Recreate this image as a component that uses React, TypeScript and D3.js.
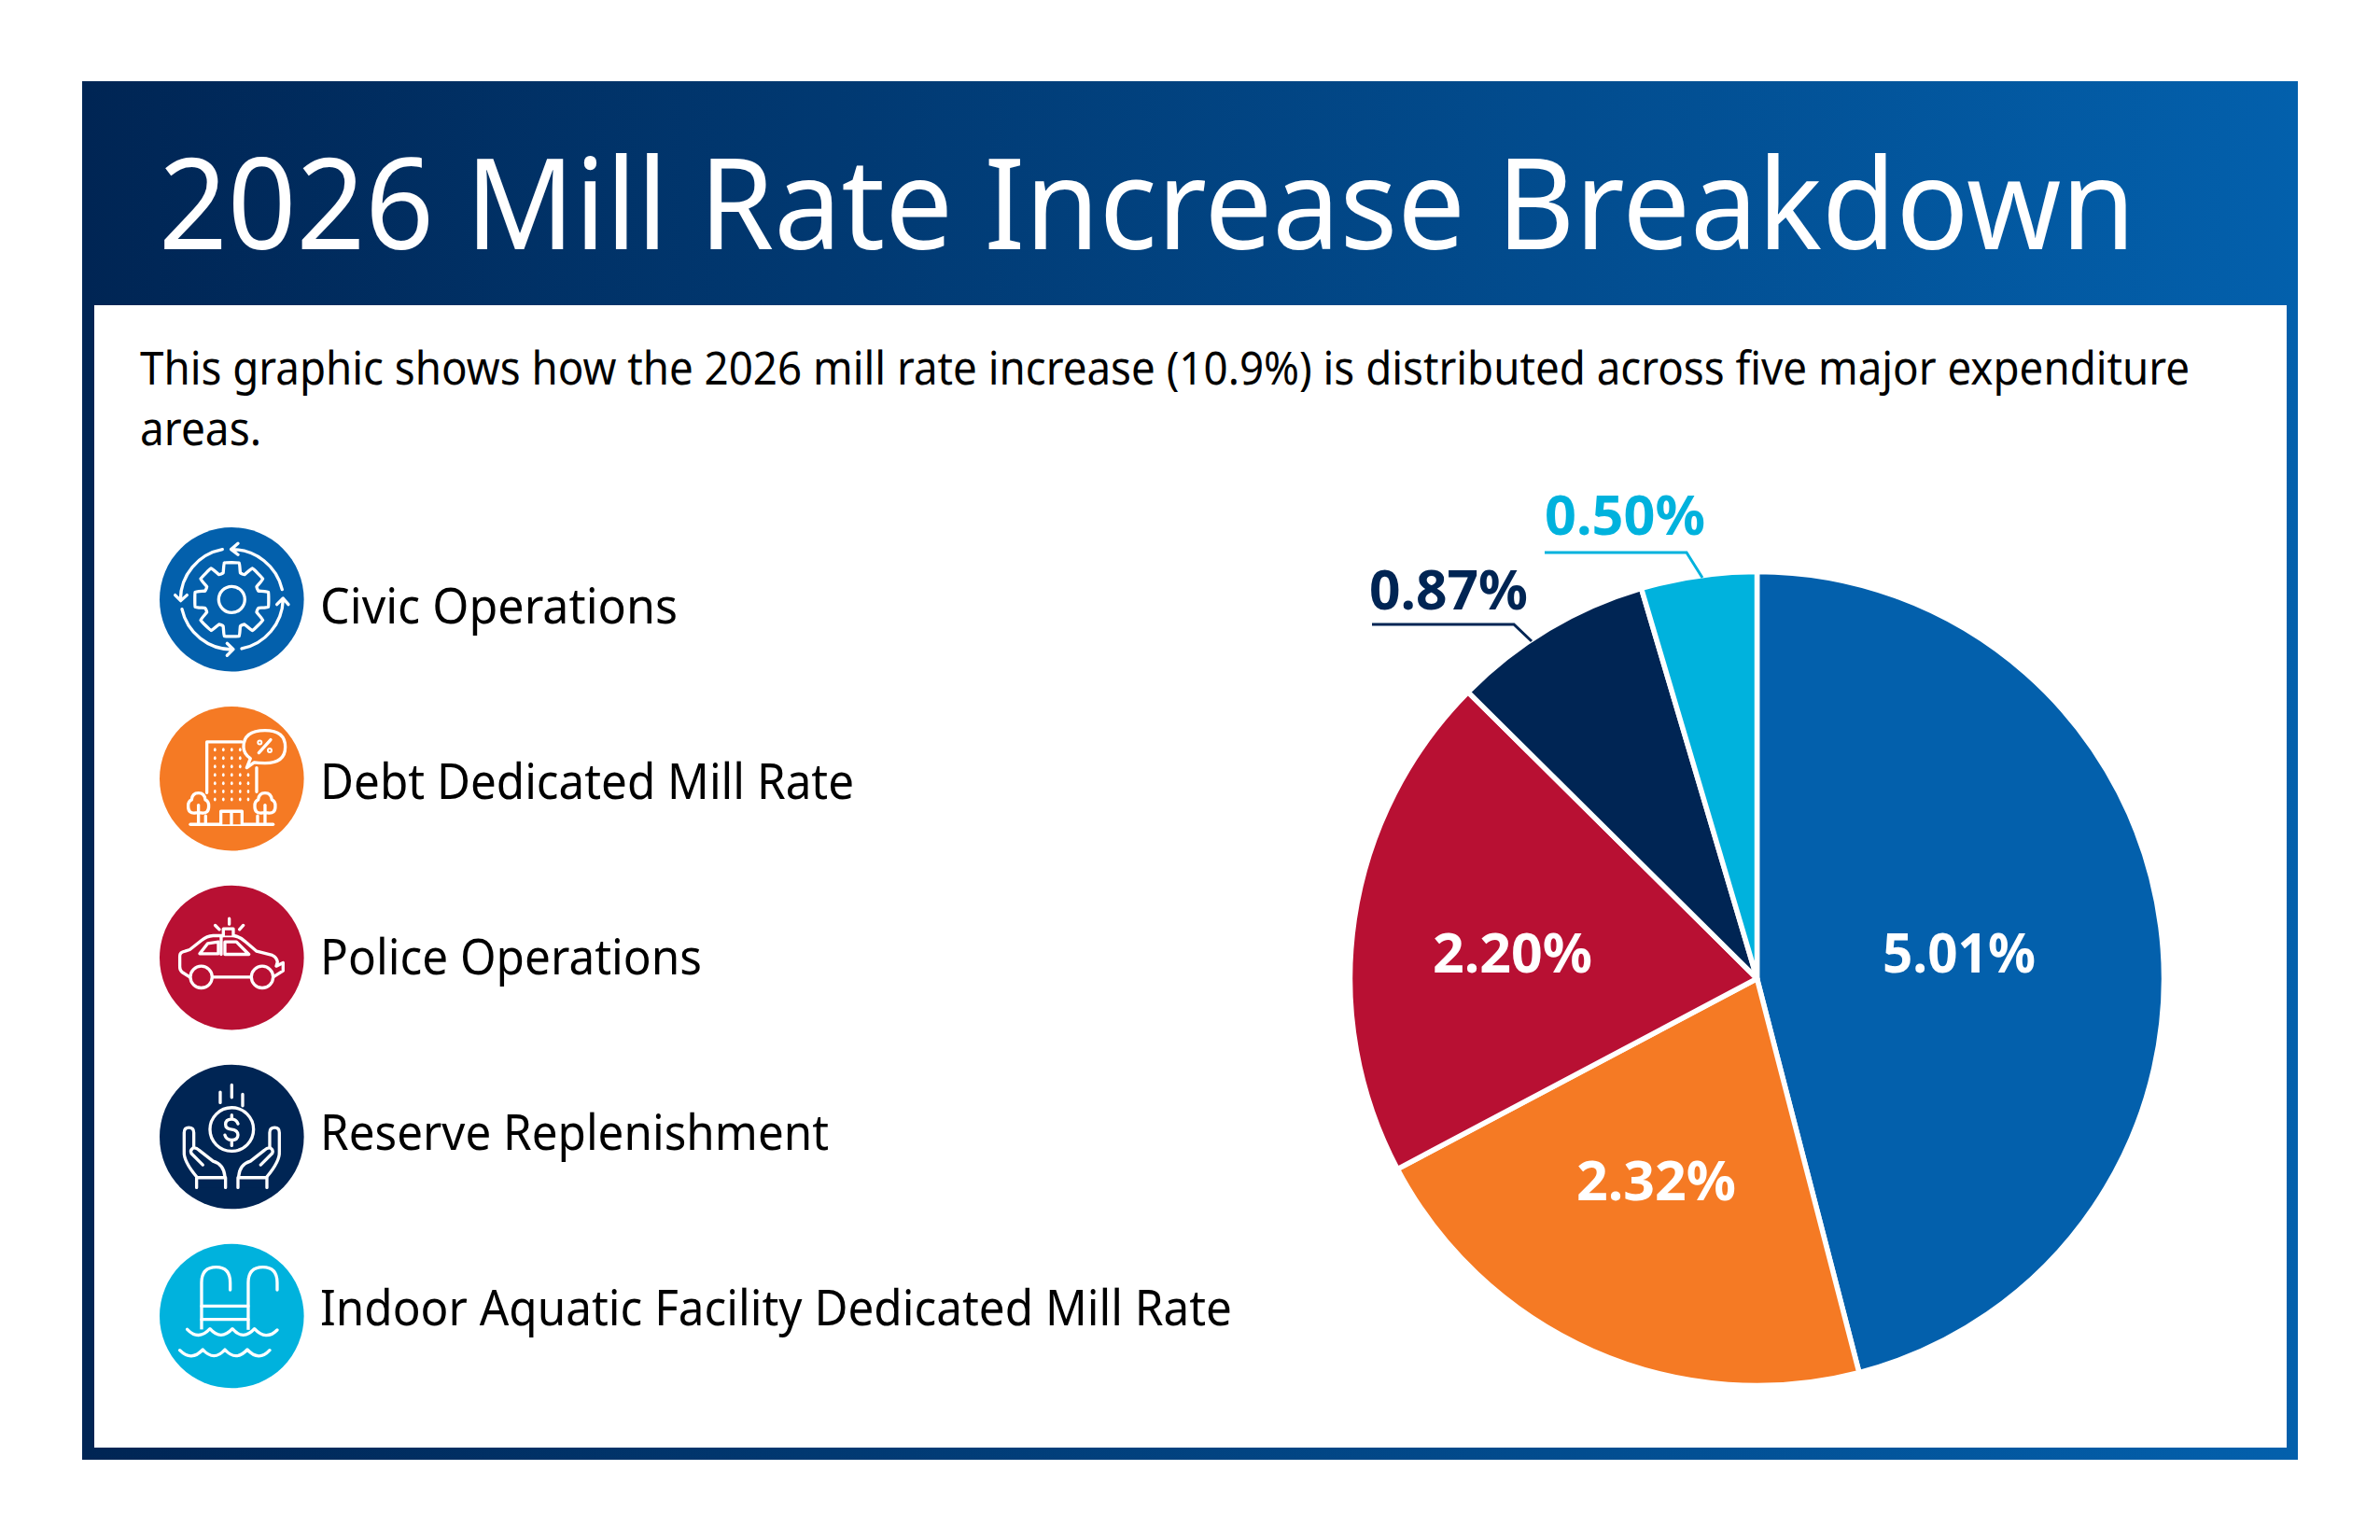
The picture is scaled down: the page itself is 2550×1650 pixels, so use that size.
import React from 'react';
import * as d3 from 'd3';

const W = 2550;
const H = 1650;

// data
const categories = [
  'Civic Operations',
  'Debt Dedicated Mill Rate',
  'Police Operations',
  'Reserve Replenishment',
  'Indoor Aquatic Facility Dedicated Mill Rate',
];
const values = [5.01, 2.32, 2.2, 0.87, 0.5];
const colors = ['#0360AC', '#F57A24', '#B81033', '#002554', '#00B2DD'];
const titleText = '2026 Mill Rate Increase Breakdown';
const introLines = [
  'This graphic shows how the 2026 mill rate increase (10.9%) is distributed across five major expenditure',
  'areas.',
];

// fitted widths, the original typeface is narrower than anything installed
const legendWidths = [383, 572, 409, 545, 977];
const labelSpots = [
  { x: 2017, y: 1042, w: 164 },
  { x: 1689, y: 1286, w: 171 },
  { x: 1535, y: 1042, w: 171 },
  { x: 1467, y: 653, w: 170 },
  { x: 1655, y: 573, w: 172 },
];
const leaders: Record<number, [number, number][]> = {
  3: [[1470, 669], [1622, 669], [1641, 687]],
  4: [[1655, 592], [1807, 592], [1824, 619]],
};

const pieCx = 1882.5;
const pieCy = 1048.5;
const pieR = 436;
const font = '"Noto Sans", sans-serif';

const pieGen = d3.pie<number>().sort(null).startAngle(0).endAngle(2 * Math.PI);
const arcGen = d3.arc<d3.PieArcDatum<number>>().innerRadius(0).outerRadius(pieR);
const rowY = d3.scalePoint<string>().domain(categories).range([642.3, 1410]);
const textY = d3.scalePoint<string>().domain(categories).range([668, 1420]);
const leaderLine = d3.line();

// icons are traced in crop pixels, 3 units = 1 screen px
const gearPts: [number, number][] = [];
for (let i = 0; i < 8; i++) {
  const c = (i * Math.PI) / 4;
  gearPts.push([c - 0.31, 90], [c - 0.2, 120], [c + 0.2, 120], [c + 0.31, 90]);
}
const gearPath = d3.lineRadial().curve(d3.curveCardinalClosed.tension(0.75))(gearPts) || '';

const GearIcon = () => (
  <g transform="translate(-325,-304)">
    <path transform="translate(325,304)" d={gearPath} />
    <circle cx={325} cy={304} r={42} />
    <path d="M487,272 A166,166 0 0 0 325,143 M345,124 L323,143 L345,160" />
    <path d="M295,143 A166,166 0 0 0 160,305 M143,290 L161,308 L181,290" />
    <path d="M165,335 A166,166 0 0 0 328,465 M310,445 L330,464 L310,484" />
    <path d="M357,462 A166,166 0 0 0 490,305 M470,320 L490,300 L507,320" />
  </g>
);

const dotRows = [787, 814, 841, 868, 895, 921, 947];
const dotCols = [271, 298, 325, 352, 378];

const BuildingIcon = () => (
  <g transform="translate(-325,-880)">
    <path d="M357,762 L245,762 L245,925 M405,845 L405,922" />
    {dotRows.map((y, r) =>
      dotCols.filter((_, c) => r > 1 || c < 4).map(x => (
        <ellipse key={x + '-' + y} cx={x} cy={y} rx={4} ry={6} fill="#fff" stroke="none" />
      )),
    )}
    <path d="M373,845 L385,815 Q363,800 363,778 Q363,725 432,725 Q497,725 497,778 Q497,830 432,830 Q410,830 397,828 Z" />
    <path d="M412,797 L450,755" />
    <circle cx={415} cy={764} r={6} strokeWidth={6} />
    <circle cx={447} cy={789} r={6} strokeWidth={6} />
    {[218, 432].map(x => (
      <g key={x}>
        <path d={`M${x - 8},990 Q${x - 34},994 ${x - 33},968 Q${x - 33},952 ${x - 22},948 Q${x - 20},926 ${x},926 Q${x + 20},926 ${x + 22},948 Q${x + 33},952 ${x + 33},968 Q${x + 34},994 ${x + 8},990 L${x - 8},990`} />
        <path d={`M${x},965 L${x},1027`} />
      </g>
    ))}
    <path d="M192,1027 L458,1027" />
    <path d="M241,1000 L241,1027 M408,1000 L408,1027" />
    <path d="M290,1027 L290,985 L358,985 L358,1027 M324,985 L324,1027" />
  </g>
);

const CarIcon = () => (
  <g transform="translate(-325,-256)">
    <path d="M190,318 L165,302 Q158,296 158,285 L158,250 Q158,238 175,235 L190,230 L228,200 Q245,186 265,185 L330,185 Q350,187 370,205 L405,235 L455,248 Q470,255 472,270 L468,283 L490,272 L490,298 L458,318" />
    <path d="M262,318 L387,318" />
    <circle cx={227} cy={318} r={35} />
    <circle cx={423} cy={318} r={35} />
    <path d="M222,243 L248,210 L282,205 L282,243 Z" />
    <path d="M303,205 L340,205 L380,245 L303,245 Z" />
    <path d="M291,190 L291,245" />
    <path d="M298,185 L298,163 L330,163 L330,185" />
    <path d="M317,130 L317,148 M272,152 L285,165 M362,152 L350,165" />
  </g>
);

const handShape = (
  <g transform="translate(0,780)">
    <path d="M212,180 Q170,130 172,100 L172,38 Q172,22 187,22 Q203,22 203,38 L203,90" />
    <path d="M232,142 L195,105 Q190,95 200,88 Q210,85 220,95 L265,130 Q300,140 303,180" />
    <path d="M212,215 L212,183 L305,183 L305,215" />
  </g>
);

const HandsIcon = () => (
  <g transform="translate(-325,-832)">
    <path d="M288,688 L288,722 M325,665 L325,705 M360,695 L360,732" />
    <circle cx={325} cy={808} r={70} />
    <path d="M345,790 Q340,775 325,775 Q305,775 305,792 Q305,806 325,808 Q345,811 345,826 Q345,842 325,842 Q307,842 303,826 M325,762 L325,775 M325,842 L325,860" />
    {handShape}
    <g transform="translate(650,0) scale(-1,1)">{handShape}</g>
  </g>
);

const PoolIcon = () => (
  <g transform="translate(-325,-627)">
    <path d="M228,680 L228,520 Q228,470 275,470 Q320,470 320,520 L320,543" />
    <path d="M378,680 L378,520 Q378,470 425,470 Q471,470 471,520 L471,543" />
    <path d="M228,595 L378,595 M228,638 L378,638" />
    <path d="M182,670 Q218,708 255,668 Q290,708 327,668 Q362,708 398,668 Q435,708 471,672" />
    <path d="M158,737 Q195,775 232,735 Q268,775 303,735 Q338,775 375,735 Q412,775 447,737" />
  </g>
);

const icons = [GearIcon, BuildingIcon, CarIcon, HandsIcon, PoolIcon];

const App = () => {
  const slices = pieGen(values);
  return (
    <svg width={W} height={H} viewBox={`0 0 ${W} ${H}`} style={{ position: 'absolute', left: 0, top: 0, background: '#fff' }}>
      <defs>
        <linearGradient id="band" x1="0" x2="1" y1="0" y2="0">
          <stop offset="0" stopColor="#002554" />
          <stop offset="1" stopColor="#0360AC" />
        </linearGradient>
      </defs>
      <rect x={88} y={87} width={2374} height={1477} fill="url(#band)" />
      <rect x={101} y={327} width={2349} height={1224} fill="#fff" />

      <text x={170} y={267} fill="#fff" fontFamily={font} fontSize={136} textLength={2118} lengthAdjust="spacingAndGlyphs">
        {titleText}
      </text>
      <text x={150} y={412} fill="#000" fontFamily={font} fontSize={49} textLength={2196} lengthAdjust="spacingAndGlyphs">
        {introLines[0]}
      </text>
      <text x={150} y={477} fill="#000" fontFamily={font} fontSize={49} textLength={130} lengthAdjust="spacingAndGlyphs">
        {introLines[1]}
      </text>

      {categories.map((c, i) => {
        const Icon = icons[i];
        return (
          <g key={c}>
            <circle cx={248.3} cy={rowY(c)} r={77.3} fill={colors[i]} />
            <g
              transform={`translate(248.3,${rowY(c)}) scale(${1 / 3})`}
              fill={colors[i]}
              stroke="#fff"
              strokeWidth={10}
              strokeLinecap="round"
              strokeLinejoin="round"
            >
              <Icon />
            </g>
            <text x={343} y={textY(c)} fill="#000" fontFamily={font} fontSize={52} textLength={legendWidths[i]} lengthAdjust="spacingAndGlyphs">
              {c}
            </text>
          </g>
        );
      })}

      <g transform={`translate(${pieCx},${pieCy})`}>
        {slices.map((s, i) => (
          <path key={i} d={arcGen(s) || ''} fill={colors[i]} stroke="#fff" strokeWidth={5.5} strokeLinejoin="round" />
        ))}
      </g>

      {Object.entries(leaders).map(([k, pts]) => (
        <path key={k} d={leaderLine(pts) || ''} fill="none" stroke={colors[+k]} strokeWidth={3} />
      ))}

      {values.map((v, i) => (
        <text
          key={i}
          x={labelSpots[i].x}
          y={labelSpots[i].y}
          fill={i < 3 ? '#fff' : colors[i]}
          fontFamily={font}
          fontWeight={700}
          fontSize={60}
          textLength={labelSpots[i].w}
          lengthAdjust="spacingAndGlyphs"
        >
          {`${d3.format('.2f')(v)}%`}
        </text>
      ))}
    </svg>
  );
};

export default App;
